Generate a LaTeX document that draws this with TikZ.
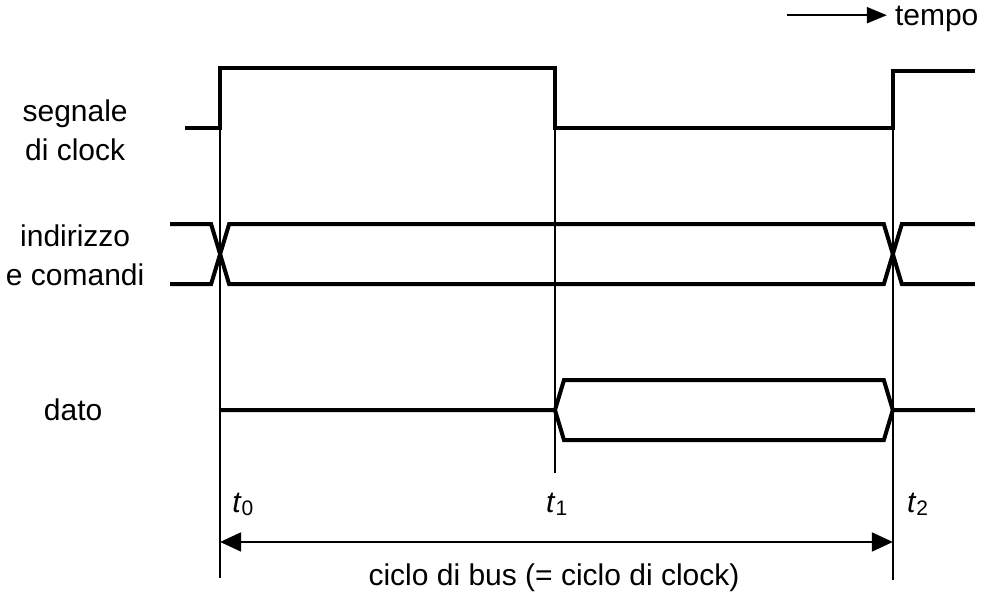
\documentclass[tikz,border=0pt]{standalone}
\usepackage{fontspec}
\setmainfont{Liberation Sans}
\usepackage{tikz}
\usetikzlibrary{arrows.meta}
\tikzset{
  signal/.style={line width=4pt,line join=miter},
  marker/.style={line width=2pt},
  label/.style={font=\fontsize{30}{39}\selectfont,inner sep=0pt,align=center},
  tick/.style={font=\fontsize{30}{34}\selectfont,inner sep=0pt},
  span/.style={line width=2pt,{Triangle[length=21pt,width=19pt]}-{Triangle[length=21pt,width=19pt]}}
}
\newcommand{\tsub}[1]{\textit{t}\raisebox{-3pt}{\fontsize{21}{21}\selectfont #1}}
\begin{document}
\begin{tikzpicture}[x=1pt,y=1pt]
\filldraw[color=white] (0.000000, 0.000000) rectangle (985.000000, 600.000000);
% Drawing signal names
\node[label,anchor=base] (clk) at (75.000000, 440.000000) {segnale\\di clock};
\node[label,anchor=base] (addr) at (75.000000, 315.000000) {indirizzo\\e comandi};
\node[label,anchor=base] (dat) at (73.000000, 180.000000) {dato};
% Done with names; drawing waveforms
% Line 1: clock
\draw[signal] (185.000000,472.000000) -- (220.000000,472.000000) -- (220.000000,532.000000)
  -- (555.000000,532.000000) -- (555.000000,472.000000) -- (893.000000,472.000000)
  -- (893.000000,529.000000) -- (975.000000,529.000000);
% Line 2: address and commands
\draw[signal] (170.000000,376.000000) -- (211.000000,376.000000) -- (229.000000,316.000000)
  -- (884.000000,316.000000) -- (902.000000,376.000000) -- (975.000000,376.000000);
\draw[signal] (170.000000,316.000000) -- (211.000000,316.000000) -- (229.000000,376.000000)
  -- (884.000000,376.000000) -- (902.000000,316.000000) -- (975.000000,316.000000);
% Line 3: data
\draw[signal] (220.000000,190.000000) -- (555.000000,190.000000) -- (564.000000,220.000000)
  -- (884.000000,220.000000) -- (893.000000,190.000000) -- (975.000000,190.000000);
\draw[signal] (555.000000,190.000000) -- (564.000000,160.000000)
  -- (884.000000,160.000000) -- (893.000000,190.000000);
% Done with waveforms; drawing time markers
\coordinate (m0) at (220.000000, 22.000000);
\coordinate (m1) at (555.000000, 127.000000);
\coordinate (m2) at (893.000000, 20.000000);
\draw[marker] (220.000000,472.000000) -- (m0);
\draw[marker] (555.000000,472.000000) -- (m1);
\draw[marker] (893.000000,472.000000) -- (m2);
\node[tick,anchor=base west] (t0) at (232.000000, 87.000000) {\tsub{0}};
\node[tick,anchor=base west] (t1) at (546.000000, 87.000000) {\tsub{1}};
\node[tick,anchor=base west] (t2) at (907.000000, 87.000000) {\tsub{2}};
% Done with markers; drawing bus cycle
\coordinate (c0) at (220.000000, 58.000000);
\coordinate (c2) at (893.000000, 58.000000);
\draw[span] (c0) -- (c2);
\node[label,anchor=base] (cycle) at (554.000000, 14.000000) {ciclo di bus (= ciclo di clock)};
% Line 4: time direction
\node[label,anchor=base west] (tempo) at (895.000000, 575.000000) {tempo};
\coordinate (dir) at (787.000000, 585.000000);
\draw[line width=2pt,-{Triangle[length=20pt,width=16pt]}] (dir) -- (887.000000, 585.000000);
% Done with comments
\end{tikzpicture}
\end{document}
